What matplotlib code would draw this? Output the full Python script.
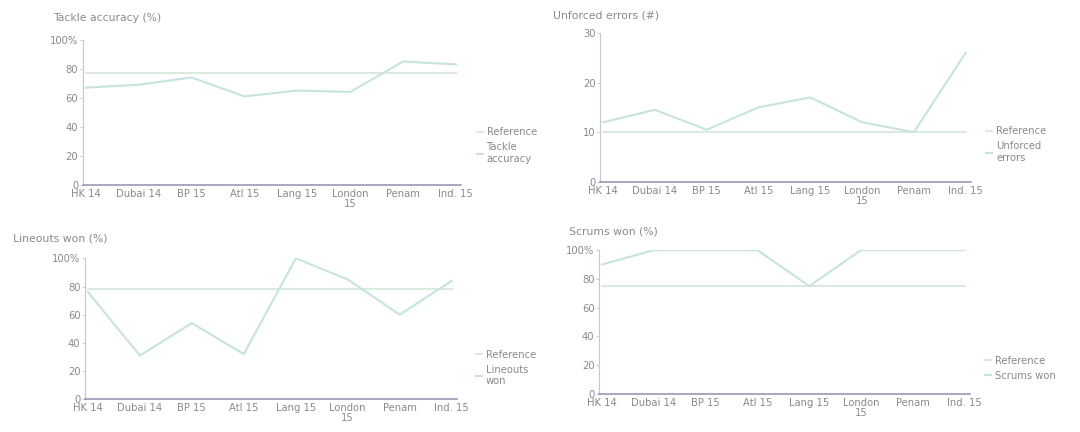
import matplotlib
matplotlib.use("Agg")
import matplotlib.pyplot as plt

# Tournaments along the x axis
events = ["HK 14", "Dubai 14", "BP 15", "Atl 15", "Lang 15", "London\n15", "Penam", "Ind. 15"]

# Per-tournament stats
tackle_accuracy = [67, 69, 74, 61, 65, 64, 85, 83]
unforced_errors = [12, 14.5, 10.5, 15, 17, 12, 10, 26]
lineouts_won = [76, 31, 54, 32, 100, 85, 60, 84]
scrums_won = [90, 100, 100, 100, 75, 100, 100, 100]

# Reference levels
tackle_ref = 77
errors_ref = 10
lineouts_ref = 78
scrums_ref = 75

TEXT = "#8a8a8a"
SERIES = "#c6e5d8"
REF = "#d9eadf"
BASE = "#8f8fb0"

plt.rcParams["font.family"] = "DejaVu Sans"

fig = plt.figure(figsize=(10.8, 4.32), dpi=100)


def panel(rect, values, ref, series_label, title, title_x, title_y, ymax, yticks, ytick_labels, legend_xy):
    ax = fig.add_axes(rect)
    x = list(range(len(events)))
    ax.plot(x, [ref] * len(x), color=REF, linewidth=1.4, label="Reference")
    ax.plot(x, values, color=SERIES, linewidth=1.5, label=series_label)
    ax.set_xlim(-0.05, 7.1)
    ax.set_ylim(0, ymax)
    ax.set_xticks(x)
    ax.set_xticklabels(events, fontsize=7.2, color=TEXT, linespacing=1.0)
    ax.set_yticks(yticks)
    ax.set_yticklabels(ytick_labels, fontsize=7.2, color=TEXT)
    for side in ["top", "right"]:
        ax.spines[side].set_visible(False)
    ax.spines["left"].set_color("#c8c8c8")
    ax.spines["left"].set_linewidth(0.8)
    ax.spines["bottom"].set_color(BASE)
    ax.spines["bottom"].set_linewidth(1.1)
    ax.tick_params(axis="both", length=2, width=0.6, color="#c8c8c8", pad=1.5)
    ax.tick_params(axis="x", length=0, pad=3)
    fig.text(title_x, title_y, title, fontsize=7.8, color=TEXT, ha="left", va="center")
    leg = ax.legend(loc="center left", bbox_to_anchor=legend_xy, frameon=False,
                    fontsize=7.2, handlelength=0.6, handletextpad=0.4,
                    labelspacing=0.5, borderaxespad=0)
    for t in leg.get_texts():
        t.set_color(TEXT)
    return ax


pct_ticks = [0, 20, 40, 60, 80, 100]
pct_labels = ["0", "20", "40", "60", "80", "100%"]

panel([0.077, 0.572, 0.350, 0.336], tackle_accuracy, tackle_ref, "Tackle\naccuracy",
      "Tackle accuracy (%)", 0.049, 0.958, 100, pct_ticks, pct_labels, (1.03, 0.27))
panel([0.556, 0.579, 0.343, 0.345], unforced_errors, errors_ref, "Unforced\nerrors",
      "Unforced errors (#)", 0.512, 0.965, 30, [0, 10, 20, 30], ["0", "10", "20", "30"], (1.03, 0.25))
panel([0.079, 0.076, 0.344, 0.326], lineouts_won, lineouts_ref, "Lineouts\nwon",
      "Lineouts won (%)", 0.012, 0.447, 100, pct_ticks, pct_labels, (1.04, 0.22))
panel([0.555, 0.088, 0.343, 0.333], scrums_won, scrums_ref, "Scrums won",
      "Scrums won (%)", 0.527, 0.463, 100, pct_ticks, pct_labels, (1.03, 0.18))

fig.savefig("out.png", dpi=100)
